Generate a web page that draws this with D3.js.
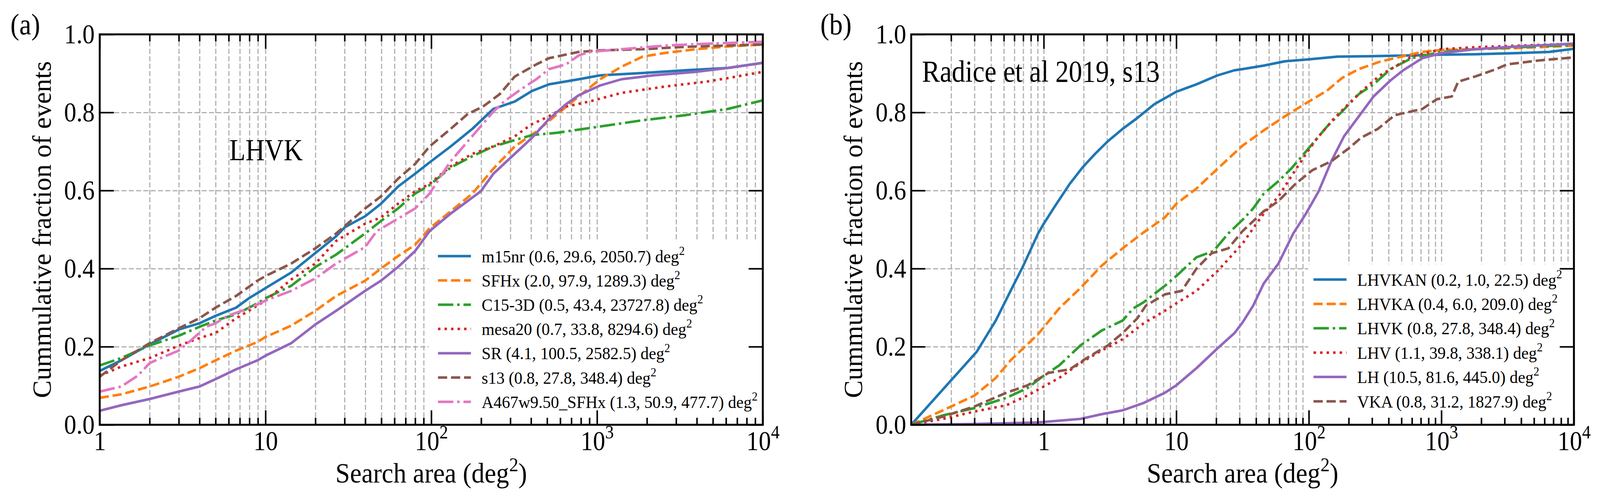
<!DOCTYPE html>
<html>
<head>
<meta charset="utf-8">
<script src="https://cdn.jsdelivr.net/npm/d3@7"></script>
<style>
  html, body { margin: 0; padding: 0; background: #fff; overflow: hidden; }
  svg { display: block; width: 100vw; height: 100vh; }
  text { font-family: "Liberation Serif", "DejaVu Serif", serif; fill: #000; }
</style>
</head>
<body>
<svg id="fig"></svg>
<script>
// ---- data ----
var fracTicks = [0, 0.2, 0.4, 0.6, 0.8, 1.0];
var fracTickLabels = ["0.0", "0.2", "0.4", "0.6", "0.8", "1.0"];
var areaTicks = [1, 10, 100, 1000, 10000];

// panel (a): LHVK network, different progenitors  [area deg^2, cumulative fraction]
var m15nr = [[1,.138],[1.35,.165],[2,.206],[3,.244],[4,.26],[5,.279],[6.65,.30],[7.94,.324],[10,.35],[14.3,.39],[20,.44],[26.7,.483],[30.1,.506],[39.9,.534],[49.7,.566],[63,.61],[79.9,.643],[97.7,.672],[131,.713],[177,.758],[237,.809],[319,.828],[405,.855],[513,.872],[776,.885],[1043,.895],[1886,.901],[3408,.908],[6160,.914],[10000,.927]];
var sfhx = [[1,.069],[1.35,.078],[2,.098],[3,.123],[4,.145],[5,.165],[6.65,.19],[8.94,.212],[10,.225],[14.3,.254],[20,.292],[26.7,.33],[39.9,.369],[49.7,.40],[63,.432],[79.9,.461],[97.7,.503],[131,.547],[177,.592],[237,.656],[319,.713],[430,.751],[577,.796],[776,.841],[1043,.885],[1403,.917],[1886,.943],[2535,.952],[3953,.962],[6160,.969],[10000,.974]];
var c153d = [[1,.152],[1.35,.171],[2,.203],[3,.228],[4,.251],[5,.267],[6.65,.283],[8.94,.311],[10,.324],[14.3,.356],[20,.404],[26.7,.436],[39.9,.49],[49.7,.522],[63,.554],[79.9,.592],[97.7,.614],[131,.659],[177,.688],[237,.713],[319,.729],[405,.742],[577,.748],[1043,.764],[1886,.78],[3408,.793],[6160,.809],[10000,.831]];
var mesa20 = [[1,.126],[1.35,.149],[2,.171],[2.66,.193],[3,.203],[4,.222],[5,.235],[6.65,.273],[7.94,.292],[10,.318],[14.3,.372],[20,.413],[26.7,.471],[39.9,.515],[49.7,.531],[63,.566],[79.9,.598],[97.7,.617],[131,.662],[177,.694],[237,.713],[319,.739],[405,.77],[513,.79],[650,.815],[900,.828],[1403,.85],[2535,.866],[4583,.879],[6160,.888],[10000,.904]];
var sr = [[1,.036],[1.35,.05],[2,.066],[3,.085],[4,.098],[5,.117],[6.65,.142],[8.94,.165],[10,.177],[14.3,.209],[20,.257],[26.7,.292],[39.9,.343],[49.7,.369],[63,.404],[79.9,.445],[97.7,.496],[131,.541],[199,.598],[237,.643],[319,.694],[405,.735],[513,.783],[650,.821],[776,.844],[1043,.869],[1403,.885],[2188,.895],[3953,.904],[6160,.914],[10000,.927]];
var s13 = [[1,.123],[1.35,.165],[2,.209],[3,.247],[4,.273],[5,.30],[6.65,.33],[8.94,.369],[10,.381],[14.3,.413],[20,.452],[26.7,.49],[39.9,.554],[49.7,.585],[63,.63],[79.9,.668],[97.7,.713],[131,.758],[166,.796],[205,.815],[259,.847],[319,.892],[430,.923],[513,.939],[776,.955],[1043,.959],[1886,.962],[3408,.968],[10000,.974]];
var a467 = [[1,.085],[1.35,.098],[1.7,.126],[2,.158],[2.43,.174],[3,.19],[3.68,.222],[4.39,.251],[5,.26],[5.9,.279],[7.94,.298],[10,.318],[14.3,.343],[20,.375],[26.7,.413],[39.9,.455],[46.9,.496],[63,.528],[79.9,.554],[97.7,.592],[116.7,.643],[131,.675],[152,.707],[193,.758],[237,.802],[275,.828],[339,.856],[430,.885],[513,.911],[650,.923],[776,.946],[900,.955],[1403,.962],[2535,.971],[4583,.976],[10000,.981]];

var namesA = ["m15nr", "SFHx", "C15-3D", "mesa20", "SR", "s13", "A467w9.50_SFHx"];
var statsA = ["(0.6, 29.6, 2050.7)", "(2.0, 97.9, 1289.3)", "(0.5, 43.4, 23727.8)", "(0.7, 33.8, 8294.6)", "(4.1, 100.5, 2582.5)", "(0.8, 27.8, 348.4)", "(1.3, 50.9, 477.7)"];
var valuesA = [m15nr, sfhx, c153d, mesa20, sr, s13, a467];

// panel (b): Radice et al 2019, s13, different detector networks
var lhvkan = [[0.1,0],[0.312,.187],[0.4345,.267],[0.562,.343],[0.70,.407],[0.906,.49],[1,.515],[1.215,.56],[1.57,.617],[1.96,.659],[2.44,.694],[3.04,.726],[3.94,.758],[5.09,.786],[6.82,.821],[10,.853],[14.2,.872],[20.5,.895],[27.5,.908],[31.6,.911],[45.7,.92],[65.9,.931],[100,.936],[165,.943],[286,.944],[597,.946],[1000,.948],[1797,.949],[3745,.952],[6495,.955],[10000,.963]];
var lhvka = [[0.1,0],[0.1734,.037],[0.301,.075],[0.4345,.12],[0.562,.165],[0.70,.196],[0.906,.232],[1.307,.298],[1.888,.35],[2.725,.407],[3.94,.452],[5.68,.493],[8.2,.531],[10,.566],[14.2,.605],[20.5,.656],[31.6,.715],[45.7,.754],[65.9,.79],[100,.828],[137.3,.856],[177.6,.888],[238.3,.911],[344,.93],[497,.943],[718,.955],[1000,.96],[1797,.962],[3745,.965],[10000,.971]];
var lhvk = [[0.1,0],[0.1734,.024],[0.301,.043],[0.522,.069],[0.754,.094],[1,.126],[1.307,.152],[1.888,.203],[2.725,.241],[3.94,.267],[4.73,.298],[5.68,.314],[8.2,.356],[10,.381],[14.2,.429],[19.1,.445],[24.7,.49],[31.6,.525],[38,.554],[45.7,.592],[59,.624],[73.6,.656],[95.2,.70],[137.3,.764],[177.6,.802],[238.3,.847],[308,.872],[413,.911],[597,.939],[1000,.955],[1797,.962],[3745,.967],[10000,.973]];
var lhv = [[0.1,0],[0.1734,.015],[0.301,.034],[0.522,.05],[0.754,.075],[1,.098],[1.307,.12],[1.888,.158],[2.725,.19],[3.94,.219],[5.68,.26],[8.2,.292],[10,.311],[14.2,.343],[20.5,.394],[31.6,.464],[38,.503],[45.7,.541],[59,.585],[73.6,.636],[95.2,.694],[114.3,.732],[153.4,.783],[198.3,.821],[247.2,.853],[344,.895],[445,.917],[597,.943],[1000,.962],[1797,.967],[3745,.971],[10000,.976]];
var lh = [[0.1,0],[0.301,.002],[0.906,.006],[1.888,.015],[2.725,.027],[3.94,.037],[5.68,.056],[8.2,.082],[10,.101],[14.2,.145],[20.5,.196],[27.5,.235],[31.6,.262],[38,.305],[45.7,.362],[59,.413],[76.3,.49],[95.2,.541],[118.6,.598],[147.8,.675],[184.4,.739],[238.3,.79],[308,.841],[413,.882],[515,.908],[718,.939],[1000,.952],[1797,.962],[3745,.969],[10000,.976]];
var vka = [[0.1,0],[0.1734,.021],[0.301,.047],[0.522,.082],[0.754,.101],[1.088,.133],[1.57,.142],[2.11,.171],[3.04,.203],[3.94,.235],[5.09,.273],[5.89,.305],[8.2,.334],[11,.343],[14.2,.40],[18.4,.439],[24.7,.452],[31.6,.496],[45.7,.547],[59,.573],[79.2,.617],[106.2,.652],[147.8,.675],[198.3,.707],[247.2,.735],[332,.758],[445,.793],[718,.809],[927,.834],[1199,.841],[1340,.879],[1797,.892],[2594,.911],[3117,.923],[5403,.933],[10000,.941]];

var namesB = ["LHVKAN", "LHVKA", "LHVK", "LHV", "LH", "VKA"];
var statsB = ["(0.2, 1.0, 22.5)", "(0.4, 6.0, 209.0)", "(0.8, 27.8, 348.4)", "(1.1, 39.8, 338.1)", "(10.5, 81.6, 445.0)", "(0.8, 31.2, 1827.9)"];
var valuesB = [lhvkan, lhvka, lhvk, lhv, lh, vka];

// ---- styles ----
var colorsA = ["#1f77b4", "#ff7f0e", "#2ca02c", "#d62728", "#9467bd", "#8c564b", "#e377c2"];
var dashA = ["solid", "dashed", "dashdot", "dotted", "solid", "dashed", "dashdot"];
var colorsB = ["#1f77b4", "#ff7f0e", "#2ca02c", "#d62728", "#9467bd", "#8c564b"];
var dashB = ["solid", "dashed", "dashdot", "dotted", "solid", "dashed"];
var dashes = {solid: null, dashed: "24,10", dashdot: "40,10,6.5,10", dotted: "6.5,10.5"};

var W = 4172, H = 1273;
// fill the window exactly, whatever size it really has
var svg = d3.select("#fig").attr("viewBox", "0 0 " + W + " " + H).attr("preserveAspectRatio", "none");
svg.append("rect").attr("width", W).attr("height", H).attr("fill", "#fff");

function minorTicks(lo, hi) {
  var out = [];
  for (var e = Math.round(Math.log10(lo)); Math.pow(10, e) < hi; e++) {
    for (var k = 2; k <= 9; k++) {
      var v = k * Math.pow(10, e);
      if (v > lo && v < hi) out.push(v);
    }
  }
  return out;
}

function powLabel(v) {
  var e = Math.round(Math.log10(v));
  if (e === 0) return "1";
  if (e === 1) return "10";
  return "10^" + e;
}

function addSuper(sel, raise) {
  sel.each(function() {
    var t = d3.select(this), s = t.text();
    if (s.indexOf("^") < 0) return;
    var parts = s.split("^");
    t.text(parts[0]);
    t.append("tspan").attr("dy", -raise).attr("font-size", "0.7em").text(parts[1]);
  });
}

// the original lettering is a little taller than wide: stretch about the anchor
function stretch(sel, sy) {
  sel.each(function() {
    var t = d3.select(this);
    var x = +t.attr("x") || 0, y = +t.attr("y") || 0;
    t.attr("transform", "translate(" + x + "," + y + ") scale(1," + sy + ") translate(" + (-x) + "," + (-y) + ")");
  });
}

function drawPanel(p) {
  var g = svg.append("g").attr("transform", "translate(" + p.left + "," + p.top + ")");
  var x = d3.scaleLog().domain(p.domain).range([0, p.width]);
  var y = d3.scaleLinear().domain([0, 1]).range([p.height, 0]);
  var minors = minorTicks(p.domain[0], p.domain[1]);
  var inner = areaTicks.concat(minors).filter(function(v) { return v > p.domain[0] * 1.0001 && v < p.domain[1] * 0.9999; });

  // grid
  var gx = g.append("g").attr("transform", "translate(0," + p.height + ")")
    .call(d3.axisBottom(x).tickValues(inner).tickSize(-p.height).tickFormat(""));
  var gy = g.append("g")
    .call(d3.axisLeft(y).tickValues([0.2, 0.4, 0.6, 0.8]).tickSize(-p.width).tickFormat(""));
  [gx, gy].forEach(function(s) {
    s.select(".domain").remove();
    s.selectAll("line").attr("stroke", "#b0b0b0").attr("stroke-width", 3).attr("stroke-dasharray", "13,6");
  });

  // curves
  var line = d3.line().x(function(d) { return x(d[0]); }).y(function(d) { return y(d[1]); });
  g.append("clipPath").attr("id", "clip" + p.key).append("rect").attr("width", p.width).attr("height", p.height);
  g.append("g").attr("clip-path", "url(#clip" + p.key + ")")
    .selectAll("path").data(p.values).join("path")
    .attr("d", function(d) { return line(d); })
    .attr("fill", "none")
    .attr("stroke", function(d, i) { return p.colors[i]; })
    .attr("stroke-width", 6.5)
    .attr("stroke-linejoin", "round")
    .attr("stroke-dasharray", function(d, i) { return dashes[p.dash[i]]; });

  // legend
  var L = p.legend;
  var lg = g.append("g");
  lg.append("rect").attr("x", L.x).attr("y", L.y).attr("width", L.w).attr("height", L.h).attr("fill", "#fff");
  var row = lg.selectAll("g.row").data(p.names).join("g").attr("class", "row")
    .attr("transform", function(d, i) { return "translate(0," + (L.row0 + i * L.step) + ")"; });
  row.append("line")
    .attr("x1", L.hx).attr("x2", L.hx + 86)
    .attr("stroke", function(d, i) { return p.colors[i]; })
    .attr("stroke-width", 6.5)
    .attr("stroke-dasharray", function(d, i) { return dashes[p.dash[i]]; });
  var lt = row.append("text").attr("x", L.tx).attr("y", 0).attr("dy", 15).attr("font-size", 43);
  lt.append("tspan").text(function(d, i) { return d + " " + p.stats[i] + " deg"; });
  lt.append("tspan").attr("dy", -18).attr("font-size", 30).text("2");
  stretch(lt, 1.04);

  // ticks on all four sides, pointing in
  var bMaj = g.append("g").attr("transform", "translate(0," + p.height + ")")
    .call(d3.axisBottom(x).tickValues(areaTicks).tickSize(-37).tickPadding(15).tickFormat(powLabel));
  var bMin = g.append("g").attr("transform", "translate(0," + p.height + ")")
    .call(d3.axisBottom(x).tickValues(minors).tickSize(-18).tickFormat(""));
  var tMaj = g.append("g").call(d3.axisTop(x).tickValues(areaTicks).tickSize(-37).tickFormat(""));
  var tMin = g.append("g").call(d3.axisTop(x).tickValues(minors).tickSize(-18).tickFormat(""));
  var lMaj = g.append("g")
    .call(d3.axisLeft(y).tickValues(fracTicks).tickSize(-37).tickPadding(13)
      .tickFormat(function(d, i) { return fracTickLabels[i]; }));
  var rMaj = g.append("g").attr("transform", "translate(" + p.width + ",0)")
    .call(d3.axisRight(y).tickValues(fracTicks).tickSize(-37).tickFormat(""));
  [bMaj, bMin, tMaj, tMin, lMaj, rMaj].forEach(function(s) {
    s.select(".domain").remove();
    s.attr("font-family", null).attr("font-size", 64);
    s.selectAll("line").attr("stroke", "#000").attr("stroke-width", 4);
    s.selectAll("text").attr("fill", "#000");
  });
  addSuper(bMaj.selectAll("text"), 27);
  stretch(bMaj.selectAll("text"), 1.1);
  stretch(lMaj.selectAll("text"), 1.1);

  g.append("rect").attr("width", p.width).attr("height", p.height)
    .attr("fill", "none").attr("stroke", "#000").attr("stroke-width", 5);

  // axis labels
  var xl = svg.append("text").attr("x", p.left + p.width / 2).attr("y", 1236)
    .attr("text-anchor", "middle").attr("font-size", 68);
  xl.append("tspan").text("Search area (deg");
  xl.append("tspan").attr("dy", -28).attr("font-size", 48).text("2");
  xl.append("tspan").attr("dy", 28).text(")");
  stretch(xl, 1.05);

  svg.append("text")
    .attr("transform", "translate(" + (p.left - 128) + "," + (p.top + p.height / 2) + ") rotate(-90)")
    .attr("text-anchor", "middle").attr("font-size", 68)
    .text("Cummulative fraction of events");

  stretch(svg.append("text").attr("x", p.tagX).attr("y", 88).attr("font-size", 70).text(p.tag), 1.08);

  stretch(g.append("text").attr("x", p.note.x).attr("y", p.note.y).attr("font-size", p.note.size).text(p.note.text), 1.12);
}

drawPanel({
  key: "a", tag: "(a)", tagX: 27,
  left: 260, top: 88, width: 1729, height: 1000,
  domain: [1, 1e4],
  values: valuesA, names: namesA, stats: statsA, colors: colorsA, dash: dashA,
  legend: {x: 858, y: 529, w: 866, h: 461, row0: 568, step: 62.2, hx: 882, tx: 996},
  note: {text: "LHVK", x: 338, y: 322, size: 69}
});

drawPanel({
  key: "b", tag: "(b)", tagX: 2139,
  left: 2376, top: 88, width: 1728, height: 1000,
  domain: [0.1, 1e4],
  values: valuesB, names: namesB, stats: statsB, colors: colorsB, dash: dashB,
  legend: {x: 1035, y: 589, w: 688, h: 401, row0: 628, step: 62.4, hx: 1049, tx: 1163},
  note: {text: "Radice et al 2019, s13", x: 28, y: 121, size: 70}
});
</script>
</body>
</html>
